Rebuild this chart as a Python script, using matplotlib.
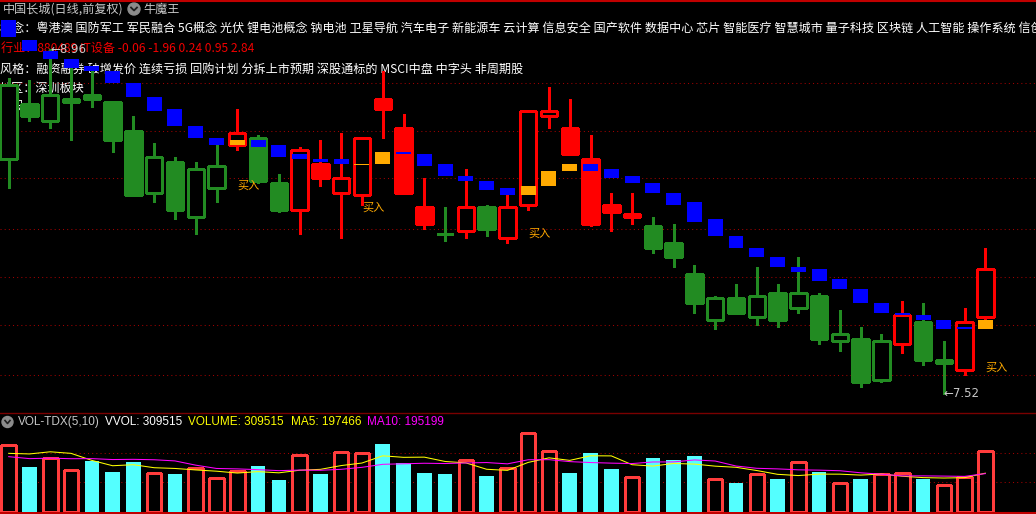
import numpy as np
import pandas as pd
import matplotlib
matplotlib.use("Agg")
import matplotlib.pyplot as plt
from matplotlib.patches import Rectangle, Circle

# ---- data (48 daily bars) ----
opens = [8.50, 8.73, 8.66, 8.74, 8.77, 8.74, 8.62, 8.36, 8.49, 8.26,
         8.38, 8.56, 8.59, 8.40, 8.29, 8.48, 8.36, 8.35, 8.75, 8.63,
         8.30, 8.19, 8.20, 8.30, 8.17, 8.31, 8.68, 8.63, 8.50, 8.31,
         8.26, 8.22, 8.15, 8.02, 7.83, 7.92, 7.84, 7.94, 7.88, 7.93,
         7.74, 7.75, 7.58, 7.73, 7.82, 7.65, 7.62, 7.84]
highs = [8.84, 8.83, 8.96, 8.91, 8.88, 8.74, 8.68, 8.57, 8.51, 8.49,
         8.56, 8.71, 8.60, 8.44, 8.55, 8.58, 8.61, 8.59, 8.87, 8.69,
         8.42, 8.30, 8.46, 8.31, 8.35, 8.70, 8.80, 8.75, 8.60, 8.36,
         8.36, 8.26, 8.23, 8.06, 7.93, 7.98, 8.05, 7.98, 8.09, 7.94,
         7.87, 7.80, 7.77, 7.91, 7.90, 7.74, 7.88, 8.13]
lows = [8.38, 8.66, 8.63, 8.58, 8.72, 8.53, 8.35, 8.32, 8.25, 8.19,
        8.32, 8.54, 8.40, 8.28, 8.19, 8.39, 8.17, 8.31, 8.59, 8.36,
        8.21, 8.16, 8.17, 8.18, 8.15, 8.29, 8.63, 8.52, 8.22, 8.20,
        8.23, 8.11, 8.05, 7.86, 7.79, 7.86, 7.81, 7.80, 7.86, 7.73,
        7.70, 7.55, 7.57, 7.69, 7.64, 7.52, 7.60, 7.82]
closes = [8.81, 8.68, 8.77, 8.75, 8.75, 8.58, 8.35, 8.51, 8.29, 8.46,
          8.47, 8.61, 8.41, 8.29, 8.54, 8.42, 8.42, 8.59, 8.71, 8.36,
          8.23, 8.19, 8.30, 8.21, 8.30, 8.70, 8.70, 8.52, 8.23, 8.28,
          8.27, 8.13, 8.09, 7.90, 7.92, 7.86, 7.93, 7.83, 7.94, 7.75,
          7.77, 7.57, 7.74, 7.85, 7.66, 7.66, 7.82, 8.04]
# candle colour given by the indicator: r = red, g = green
trend = list("ggggggggggg" "r" "gg" "rrrrrrr" "g" "r" "g" "rrrrrrr"
             "gggggggggggg" "r" "gg" "rr")

# indicator boxes (top / bottom price); orange ones are signal days
box_top = [9.08, 9.00, 8.95, 8.92, 8.89, 8.87, 8.82, 8.76, 8.71, 8.64,
           8.59, 8.58, 8.58, 8.56, 8.52, 8.50, 8.50, 8.48, 8.53, 8.53,
           8.52, 8.48, 8.43, 8.41, 8.38, 8.39, 8.45, 8.48, 8.48, 8.46,
           8.43, 8.40, 8.36, 8.32, 8.25, 8.18, 8.13, 8.09, 8.05, 8.04,
           8.00, 7.96, 7.90, 7.86, 7.85, 7.83, 7.80, 7.83]
box_bot = [9.01, 8.95, 8.92, 8.88, 8.87, 8.82, 8.76, 8.70, 8.64, 8.59,
           8.56, 8.56, 8.55, 8.51, 8.50, 8.49, 8.48, 8.475, 8.48, 8.52,
           8.47, 8.43, 8.41, 8.37, 8.35, 8.35, 8.39, 8.45, 8.45, 8.42,
           8.40, 8.36, 8.31, 8.24, 8.18, 8.13, 8.09, 8.05, 8.03, 7.99,
           7.96, 7.90, 7.86, 7.85, 7.83, 7.79, 7.79, 7.79]
signal_days = [11, 17, 18, 25, 26, 27, 47]
buy_days = [11, 17, 25, 47]
buy_label_price = [8.39, 8.30, 8.19, 7.63]

volume = [340000, 229000, 274000, 212000, 260000, 203000, 255000, 197000,
          193000, 222000, 171000, 207000, 234000, 162000, 289000, 193000,
          304000, 299000, 347000, 250000, 198000, 193000, 263000, 183000,
          222000, 402000, 310000, 198000, 301000, 219000, 176000, 275000,
          265000, 285000, 166000, 147000, 192000, 168000, 253000, 203000,
          146000, 168000, 194660, 197000, 168000, 135000, 177815, 309515]
# the nine sessions before the window, only used for the moving averages
volume_before = [329000, 250000, 240000, 256000, 250000,
                 244000, 219000, 252000, 440000]

price_grid = [8.82, 8.62, 8.42, 8.21, 8.01, 7.81, 7.60]
vol_grid = [150000, 300000]

concepts = ("概念：粤港澳 国防军工 军民融合 5G概念 光伏 锂电池概念 钠电池 卫星导航 汽车电子 "
            "新能源车 云计算 信息安全 国产软件 数据中心 芯片 智能医疗 智慧城市 量子科技 区块链 "
            "人工智能 操作系统 信创")
industry = "行业：880489 IT设备 -0.06 -1.96 0.24 0.95 2.84"
style_txt = "风格：融资融券 破增发价 连续亏损 回购计划 分拆上市预期 深股通标的 MSCI中盘 中字头 非周期股"
region = "地区：深圳板块"

# ---- colours ----
RED = "#FF0000"
GREEN = "#228B22"
BLUE = "#0000FF"
ORANGE = "#FFAA00"
CYAN = "#54FFFF"
VRED = "#FF3C3C"
GRID = "#A00000"
cjk = ["Noto Sans CJK SC", "DejaVu Sans"]
lat = ["Liberation Sans", "DejaVu Sans"]

W, H = 1036, 514
fig = plt.figure(figsize=(W / 100, H / 100), dpi=100)
fig.patch.set_facecolor("black")

# background layer in pixel coordinates: info text and frame lines
bg = fig.add_axes([0, 0, 1, 1])
bg.set_xlim(0, W)
bg.set_ylim(H, 0)
bg.axis("off")

bg.text(3, 9, "中国长城(日线,前复权)", color="#C8C8C8", fontsize=8.7, family=cjk, va="center")
bg.add_patch(Circle((134, 9), 6, color="#8C8C8C"))
bg.plot([131, 134, 137], [7.5, 10.5, 7.5], color="#202020", lw=1.3)
bg.text(143, 9, "牛魔王", color="#C8C8C8", fontsize=8.7, family=cjk, va="center")
bg.text(0, 29, concepts, color="white", fontsize=8.7, family=cjk, va="center")
bg.text(1, 48, industry, color="#F00000", fontsize=8.7, family=cjk, va="center")
bg.text(0, 69, style_txt, color="white", fontsize=8.7, family=cjk, va="center")
bg.text(0, 88, region, color="white", fontsize=8.7, family=cjk, va="center")
bg.text(12, 106, "股", color="white", fontsize=8.7, family=cjk, va="center")

bg.axhline(0.7, color="#C00000", lw=1.5)
bg.axhline(413, color="#7A0000", lw=1)
bg.axhline(513, color="#C00000", lw=1.5)

n = len(closes)
xs = np.arange(n)
xmin = -0.4187
xmax = xmin + W / 20.78

# ---- price panel ----
ax = fig.add_axes([0, (H - 411) / H, 1, 411 / H])
ax.set_xlim(xmin, xmax)
ax.set_ylim(7.449, 9.165)
ax.axis("off")

for g in price_grid:
    ax.axhline(g, color=GRID, lw=0.75, ls=(0, (1, 3)), zorder=0.5)

bw = 0.79
for i in xs:
    col = RED if trend[i] == "r" else GREEN
    o, h, l, c = opens[i], highs[i], lows[i], closes[i]
    ax.vlines(i, l, h, color=col, lw=0.75, zorder=2, antialiased=False)
    if c == o:
        ax.hlines(c, i - bw / 2, i + bw / 2, color=col, lw=0.75, zorder=3, antialiased=False)
    else:
        filled = c < o
        ax.add_patch(Rectangle((i - bw / 2, min(o, c)), bw, abs(c - o),
                               facecolor=col if filled else "black", edgecolor=col,
                               lw=0.75, zorder=3, antialiased=False))

# indicator boxes
for i in xs:
    col = ORANGE if i in signal_days else BLUE
    ax.add_patch(Rectangle((i - 0.36, box_bot[i]), 0.72, box_top[i] - box_bot[i],
                           facecolor=col, edgecolor="none", zorder=4, antialiased=False))

for i, p in zip(buy_days, buy_label_price):
    ax.text(i, p, "买入", color=ORANGE, fontsize=8, family=cjk, va="center", ha="left", zorder=5)

# highest / lowest markers
hi = int(np.argmax(highs))
lo = int(np.argmin(lows))
ax.text(hi, highs[hi], f"←{highs[hi]:.2f}", color="#C8C8C8", fontsize=8.5,
        family=["DejaVu Sans"], va="center", ha="left", zorder=3.5)
ax.text(lo, lows[lo], f"←{lows[lo]:.2f}", color="#C8C8C8", fontsize=8.5,
        family=["DejaVu Sans"], va="center", ha="left", zorder=5)

# ---- volume panel ----
vax = fig.add_axes([0, 2.3 / H, 1, 98.7 / H])
vax.set_xlim(xmin, xmax)
vax.set_ylim(0, 505800)
vax.axis("off")
for g in vol_grid:
    vax.axhline(g, color=GRID, lw=0.75, ls=(0, (1, 3)), zorder=0.5)

prev_close = [np.nan] + closes[:-1]
for i in xs:
    up = closes[i] > opens[i] or (closes[i] == opens[i] and closes[i] >= prev_close[i])
    if up:
        vax.add_patch(Rectangle((i - 0.35, 0), 0.70, volume[i], facecolor="black",
                                edgecolor=VRED, lw=0.75, zorder=2, antialiased=False))
    else:
        vax.add_patch(Rectangle((i - 0.35, 0), 0.70, volume[i], facecolor=CYAN,
                                edgecolor="none", zorder=2, antialiased=False))

allvol = pd.Series(volume_before + volume, dtype=float)
ma5 = allvol.rolling(5).mean().to_numpy()[len(volume_before):]
ma10 = allvol.rolling(10).mean().to_numpy()[len(volume_before):]
vax.plot(xs, ma5, color="#FFFF00", lw=0.75, zorder=3)
vax.plot(xs, ma10, color="#FF00FF", lw=0.75, zorder=3)

# volume header
bg.add_patch(Circle((7.5, 422), 5.5, color="#8C8C8C"))
bg.plot([5, 7.5, 10], [420.5, 423.5, 420.5], color="#202020", lw=1.2)
hdr = [(18, "VOL-TDX(5,10)", "#C8C8C8"),
       (105, f"VVOL: {volume[-1]}", "white"),
       (188, f"VOLUME: {volume[-1]}", "#FFFF00"),
       (291, f"MA5: {ma5[-1]:.0f}", "#FFFF00"),
       (367, f"MA10: {ma10[-1]:.0f}", "#FF00FF")]
for x, s, c in hdr:
    bg.text(x, 422, s, color=c, fontsize=8.5, family=lat, va="center")

fig.savefig("out.png", dpi=100, facecolor="black")
